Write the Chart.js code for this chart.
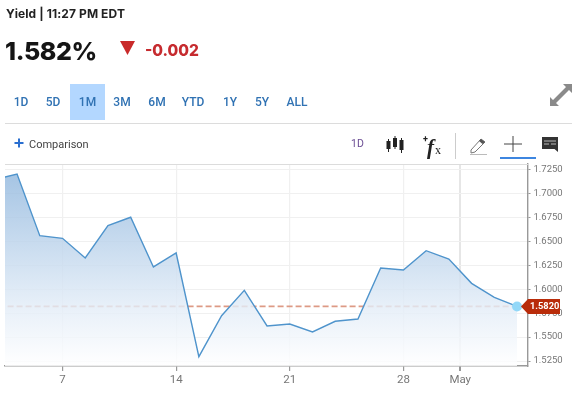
<!DOCTYPE html>
<html>
<head>
<meta charset="utf-8">
<script src="https://cdn.jsdelivr.net/npm/chart.js@4"></script>
<style>
html, body { margin: 0; padding: 0; background: #fff; overflow: hidden; }
#wrap { position: relative; width: 575px; height: 393px; font-family: Roboto, sans-serif; }
#wrap canvas { position: absolute; left: 0; top: 0; }
.t { position: absolute; white-space: nowrap; line-height: 1; z-index: 2; }
.btn { position: absolute; top: 84px; height: 36px; line-height: 36px; text-align: center; font-size: 12px; font-weight: 500; color: #3072b3; z-index: 2; }
.rule { position: absolute; height: 1px; background: #dcdcdc; z-index: 2; }
svg { position: absolute; z-index: 2; }
</style>
</head>
<body>
<div id="wrap">
  <canvas id="grafico" width="575" height="393"></canvas>
  <div class="t" style="left:6px;top:6px;font:700 12px Inter,sans-serif;color:#222;letter-spacing:.1px">Yield | 11:27 PM EDT</div>
  <div class="t" style="left:5px;top:36px;font:800 25px Inter,sans-serif;color:#151515;letter-spacing:-.4px">1.582%</div>
  <svg style="left:119px;top:40px" width="18" height="16"><polygon points="1,1 16,1 8.5,15" fill="#c92a2a"/></svg>
  <div class="t" style="left:145px;top:41px;font:800 15.5px Inter,sans-serif;color:#c62b2f">-0.002</div>
  <div id="botoes"></div>
  <div class="rule" style="left:5px;top:123px;width:567px"></div>
  <div class="rule" style="left:5px;top:164px;width:524px"></div>
  <svg style="left:549px;top:83px" width="24" height="24" fill="#8a8a8a"><polygon points="14,1 23,1 23,10 20,7 7,20 10,23 1,23 1,14 4,17 17,4"/></svg>
  <svg style="left:14px;top:138px" width="10" height="10"><path d="M5 0.5V9.5M0.5 5H9.5" stroke="#2a6fd0" stroke-width="2"/></svg>
  <div class="t" style="left:29px;top:138.5px;font-size:11px;color:#444">Comparison</div>
  <div class="t" style="left:351px;top:139px;font-size:10.5px;color:#6a4c93">1D</div>
  <svg style="left:385px;top:134px" width="20" height="22" fill="#222" stroke="#222">
    <path d="M3.5 5V18M10 2V15M16.5 4V19" stroke-width="1"/>
    <rect x="1.5" y="7" width="4" height="8" stroke="none"/><rect x="8" y="4" width="4" height="9" stroke="none"/><rect x="14.5" y="6" width="4" height="10" stroke="none"/>
  </svg>
  <div class="t" style="left:427px;top:135px;font:italic 700 21px 'Liberation Serif',serif;color:#222">f<span style="font-size:12px;font-style:normal;font-weight:400;margin-left:1px">x</span></div>
  <div class="t" style="left:423px;top:134px;font:700 9px Roboto,sans-serif;color:#222">+</div>
  <div style="position:absolute;left:455px;top:133px;width:1px;height:26px;background:#ccc;z-index:2"></div>
  <svg style="left:469px;top:136px" width="20" height="20" fill="none" stroke="#777"><path d="M2 14L12 3L16 6L6 16L2 17Z" stroke-width="1"/><path d="M12 3L16 6L13.5 8L10 5Z" fill="#555" stroke="none"/><path d="M1 18.5H18" stroke="#bbb"/></svg>
  <svg style="left:503px;top:134px" width="20" height="20"><path d="M10 2V18M1 10H19" stroke="#444" stroke-width="1"/></svg>
  <div style="position:absolute;left:500px;top:157px;width:36px;height:2px;background:#3d86e0;z-index:2"></div>
  <svg style="left:542px;top:137px" width="17" height="16"><path d="M0 0H16V15L12.5 12H0Z" fill="#333"/><path d="M2 4H14M2 7H7M9 7H14" stroke="#bbb" stroke-width="1"/></svg>
</div>
<script>
// botoes de periodo
const periodos = ['1D', '5D', '1M', '3M', '6M', 'YTD', '1Y', '5Y', 'ALL'];
const periodoX = [21, 53, 87, 122, 157, 193, 230, 262, 297];

// dias de pregao, o indice -1 fica cortado na borda esquerda
const indices = [-1, 0, 1, 2, 3, 4, 5, 6, 7, 8, 9, 10, 11, 12, 13, 14, 15, 16, 17, 18, 19, 20, 21, 22];
const valores = [1.7143, 1.7203, 1.6559, 1.6531, 1.6326, 1.6663, 1.6751, 1.6232, 1.6378, 1.5295, 1.5723, 1.5988,
  1.5616, 1.5636, 1.5553, 1.5665, 1.5689, 1.6221, 1.6200, 1.6402, 1.6315, 1.6061, 1.5915, 1.5820];

// eixos
const xTickPos = [2, 7, 12, 17, 19.5];
const xTickLabels = ['7', '14', '21', '28', 'May'];
const yTicks = [1.525, 1.55, 1.575, 1.6, 1.625, 1.65, 1.675, 1.7, 1.725];
const ultimo = 1.582;

const botoes = document.getElementById('botoes');
periodos.forEach((p, i) => {
  const b = document.createElement('div');
  b.className = 'btn';
  b.textContent = p;
  b.style.left = (periodoX[i] - 18) + 'px';
  b.style.width = '36px';
  if (p === '1M') {
    b.style.left = '70px';
    b.style.width = '35px';
    b.style.background = '#b3d7ff';
  }
  botoes.appendChild(b);
});

// etiqueta vermelha do ultimo preco
const etiqueta = {
  id: 'etiqueta',
  afterDraw(chart) {
    const c = chart.ctx;
    const y = chart.scales.y.getPixelForValue(ultimo);
    c.save();
    c.fillStyle = '#b92c0a';
    c.beginPath();
    c.moveTo(521, y);
    c.lineTo(528, y - 7.5);
    c.lineTo(560, y - 7.5);
    c.lineTo(560, y + 7.5);
    c.lineTo(528, y + 7.5);
    c.closePath();
    c.fill();
    c.fillStyle = '#fff';
    c.font = '700 9.3px Roboto, sans-serif';
    c.textAlign = 'left';
    c.textBaseline = 'middle';
    c.fillText(ultimo.toFixed(4), 530, y + 0.5);
    c.restore();
  }
};

function gradiente(ctx) {
  const area = ctx.chart.chartArea;
  if (!area) return 'transparent';
  const g = ctx.chart.ctx.createLinearGradient(0, area.top, 0, area.bottom);
  g.addColorStop(0, 'rgba(140,180,220,0.82)');
  g.addColorStop(0.7, 'rgba(226,236,247,0.82)');
  g.addColorStop(1, 'rgba(255,255,255,0.82)');
  return g;
}

new Chart(document.getElementById('grafico'), {
  type: 'line',
  data: {
    datasets: [
      {
        label: 'Yield',
        data: indices.map((x, i) => ({ x: x, y: valores[i] })),
        borderColor: '#4f94cc',
        borderWidth: 1.4,
        tension: 0,
        fill: 'start',
        backgroundColor: gradiente,
        pointRadius: ctx => (ctx.dataIndex === indices.length - 1 ? 5 : 0),
        pointBackgroundColor: '#93d8f8',
        pointBorderWidth: 0,
        order: 1
      },
      {
        label: 'Ultimo',
        data: [{ x: -2, y: ultimo }, { x: 23, y: ultimo }],
        borderColor: '#dd9a85',
        borderWidth: 1.7,
        borderDash: [6, 3],
        pointRadius: 0,
        order: 2
      }
    ]
  },
  plugins: [etiqueta],
  options: {
    responsive: false,
    animation: false,
    events: [],
    layout: { padding: { top: 164, left: 5 } },
    plugins: { legend: { display: false }, tooltip: { enabled: false } },
    scales: {
      x: {
        type: 'linear',
        min: -0.53,
        max: 22.46,
        afterFit: s => { s.height = 27; },
        afterBuildTicks: s => { s.ticks = xTickPos.map(v => ({ value: v })); },
        grid: { color: ctx => (ctx.tick && ctx.tick.value === 19.5 ? '#e6e6e6' : '#f0f0f0'), lineWidth: ctx => (ctx.tick && ctx.tick.value === 19.5 ? 2 : 1.2), tickColor: '#999', tickLength: 5 },
        border: { color: '#999', width: 1.4 },
        ticks: {
          autoSkip: false,
          maxRotation: 0,
          padding: 2,
          color: '#777',
          font: { family: 'Roboto', size: 11.5 },
          callback: v => xTickLabels[xTickPos.indexOf(v)]
        }
      },
      y: {
        position: 'right',
        min: 1.5198,
        max: 1.7307,
        afterFit: s => { s.width = 47.5; },
        afterBuildTicks: s => { s.ticks = yTicks.map(v => ({ value: v })); },
        grid: { color: '#f0f0f0', lineWidth: 1, tickColor: '#999', tickLength: 3 },
        border: { color: '#999', width: 1.4 },
        ticks: {
          autoSkip: false,
          padding: 3,
          color: '#777',
          font: { family: 'Roboto', size: 9.5 },
          callback: v => v.toFixed(4)
        }
      }
    }
  }
});
</script>
</body>
</html>
